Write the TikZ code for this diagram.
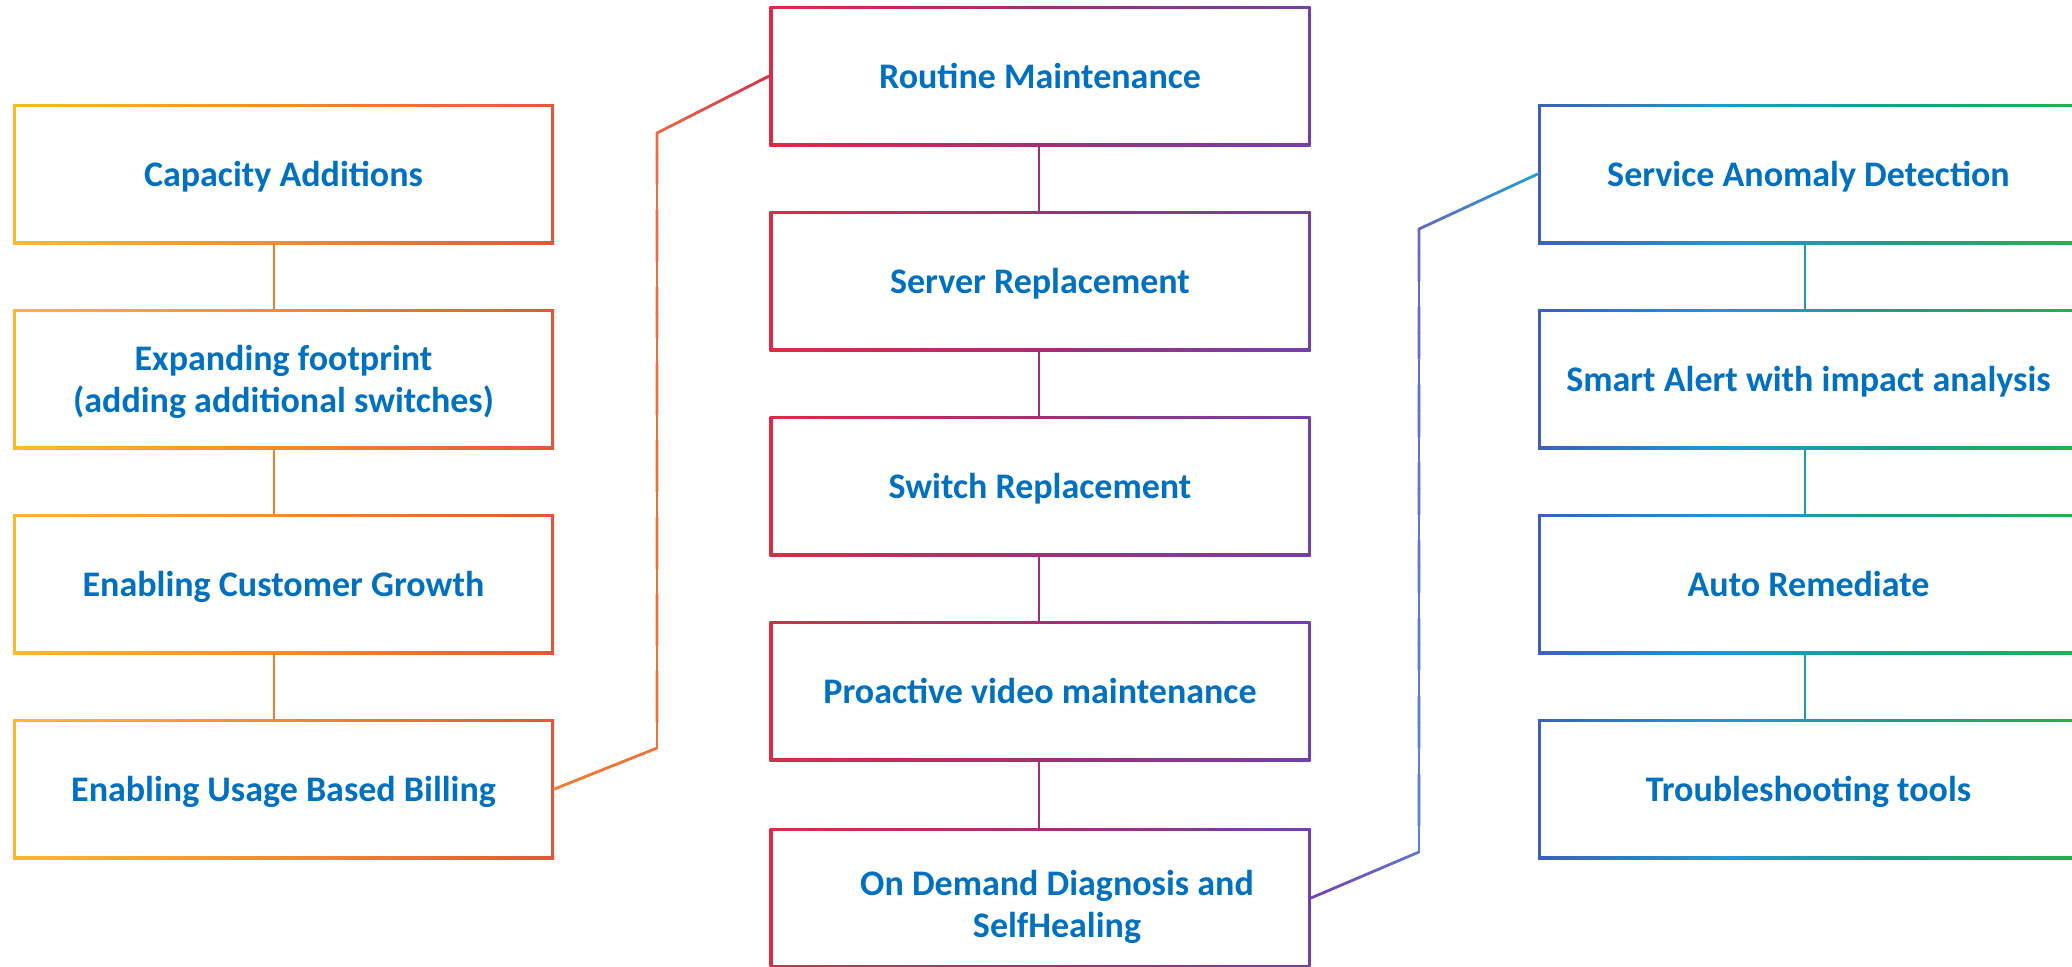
\documentclass[tikz,border=0pt]{standalone}
\usepackage{fontspec}
\setmainfont{Carlito}
\usetikzlibrary{calc}

% text and border colours
\definecolor{txtblue}{HTML}{0070C0}
\definecolor{lA}{HTML}{FDB92B}
\definecolor{lB}{HTML}{F58A2A}
\definecolor{lC}{HTML}{E2563C}
\definecolor{mA}{HTML}{DA2C47}
\definecolor{mB}{HTML}{A52F72}
\definecolor{mC}{HTML}{723FAE}
\definecolor{rA}{HTML}{3C60B9}
\definecolor{rB}{HTML}{1E97D5}
\definecolor{rC}{HTML}{17A184}
\definecolor{rD}{HTML}{22B24C}
% connector colours
\definecolor{lV}{HTML}{F07E32}
\definecolor{mV}{HTML}{A3306C}
\definecolor{rV}{HTML}{1B9BA6}
\definecolor{oA}{HTML}{F27A2E}
\definecolor{oB}{HTML}{F07238}
\definecolor{oC}{HTML}{EE6A44}
\definecolor{oD}{HTML}{D82F4C}
\definecolor{pA}{HTML}{7A3FB0}
\definecolor{pB}{HTML}{5E7ACC}
\definecolor{pC}{HTML}{5C82D2}
\definecolor{pD}{HTML}{6668C0}
\definecolor{pE}{HTML}{1EA0DA}

% horizontal gradients for the three columns of boxes
\pgfdeclarehorizontalshading{leftcol}{100bp}{color(0bp)=(lA); color(25bp)=(lA); color(50bp)=(lB); color(75bp)=(lC); color(100bp)=(lC)}
\pgfdeclarehorizontalshading{midcol}{100bp}{color(0bp)=(mA); color(25bp)=(mA); color(50bp)=(mB); color(75bp)=(mC); color(100bp)=(mC)}
\pgfdeclarehorizontalshading{rightcol}{100bp}{color(0bp)=(rA); color(25bp)=(rA); color(41.67bp)=(rB); color(58.33bp)=(rC); color(75bp)=(rD); color(100bp)=(rD)}

% a straight piece whose colour runs from #3 to #4
\newcommand\gradseg[4]{%
  \foreach \i in {0,...,23}{%
    \pgfmathsetmacro\ta{\i/24}%
    \pgfmathsetmacro\tb{(\i+1)/24}%
    \pgfmathtruncatemacro\pc{(\i+0.5)*100/24}%
    \draw[wire,draw=#4!\pc!#3] ($(#1)!\ta!(#2)$) -- ($(#1)!\tb!(#2)$);
  }}

\tikzset{
  box/.style={rectangle, shade, minimum width=270.5pt, minimum height=70pt,
    inner sep=0pt, align=center, text=txtblue, text depth=0pt,
    font=\fontsize{18}{21}\selectfont\bfseries,
    path picture={\fill[white]
      ([shift={(1.5pt,-1.5pt)}]path picture bounding box.north west) rectangle
      ([shift={(-1.5pt,1.5pt)}]path picture bounding box.south east);}},
  lbox/.style={box, shading=leftcol},
  mbox/.style={box, shading=midcol},
  rbox/.style={box, shading=rightcol},
  wire/.style={line width=1.4pt, line cap=round},
  vwire/.style={line width=1.4pt}
}

\begin{document}
\begin{tikzpicture}[x=0.5pt, y=-0.5pt]
\useasboundingbox (0,0) rectangle (2072,966);
\clip (0,0) rectangle (2072,966);
\fill[white] (0,0) rectangle (2072,966);

% left column
\node[lbox] (cap)  at (283.5,174) {Capacity Additions};
\node[lbox] (exp)  at (283.5,379) {Expanding footprint\\(adding additional switches)};
\node[lbox] (grow) at (283.5,584) {Enabling Customer Growth};
\node[lbox] (bill) at (283.5,789) {Enabling Usage Based Billing};

% middle column
\node[mbox] (rout) at (1040,76)  {Routine Maintenance};
\node[mbox] (serv) at (1040,281) {Server Replacement};
\node[mbox] (swit) at (1040,486) {Switch Replacement};
\node[mbox] (proa) at (1040,691) {Proactive video maintenance};
\node[mbox, label={[name=ondtext, text=txtblue, align=center,
    font=\fontsize{18}{21}\selectfont\bfseries, xshift=8.5pt, yshift=-4.5pt]center:On Demand Diagnosis and\\SelfHealing}]
  (ond) at (1040,898) {};

% right column
\node[rbox] (sad)   at (1808.5,174) {Service Anomaly Detection};
\node[rbox] (smart) at (1808.5,379) {Smart Alert with impact analysis};
\node[rbox] (auto)  at (1808.5,584) {Auto Remediate};
\node[rbox] (trbl)  at (1808.5,789) {Troubleshooting tools};

% links inside each column
\draw[vwire, draw=lV] ([xshift=-4.75pt]cap.south)  -- ([xshift=-4.75pt]exp.north);
\draw[vwire, draw=lV] ([xshift=-4.75pt]exp.south)  -- ([xshift=-4.75pt]grow.north);
\draw[vwire, draw=lV] ([xshift=-4.75pt]grow.south) -- ([xshift=-4.75pt]bill.north);
\draw[vwire, draw=mV] ([xshift=-0.5pt]rout.south) -- ([xshift=-0.5pt]serv.north);
\draw[vwire, draw=mV] ([xshift=-0.5pt]serv.south) -- ([xshift=-0.5pt]swit.north);
\draw[vwire, draw=mV] ([xshift=-0.5pt]swit.south) -- ([xshift=-0.5pt]proa.north);
\draw[vwire, draw=mV] ([xshift=-0.5pt]proa.south) -- ([xshift=-0.5pt]ond.north);
\draw[vwire, draw=rV] ([xshift=-1.75pt]sad.south)   -- ([xshift=-1.75pt]smart.north);
\draw[vwire, draw=rV] ([xshift=-1.75pt]smart.south) -- ([xshift=-1.75pt]auto.north);
\draw[vwire, draw=rV] ([xshift=-1.75pt]auto.south)  -- ([xshift=-1.75pt]trbl.north);

% links between the columns
\coordinate (lb) at (657,748);
\coordinate (lt) at (657,133);
\gradseg{bill.east}{lb}{oA}{oB}
\gradseg{lb}{lt}{oB}{oC}
\gradseg{lt}{rout.west}{oC}{oD}

\coordinate (rb) at (1419,852);
\coordinate (rt) at (1419,229);
\gradseg{ond.east}{rb}{pA}{pB}
\gradseg{rb}{rt}{pC}{pD}
\gradseg{rt}{sad.west}{pD}{pE}
\end{tikzpicture}
\end{document}
